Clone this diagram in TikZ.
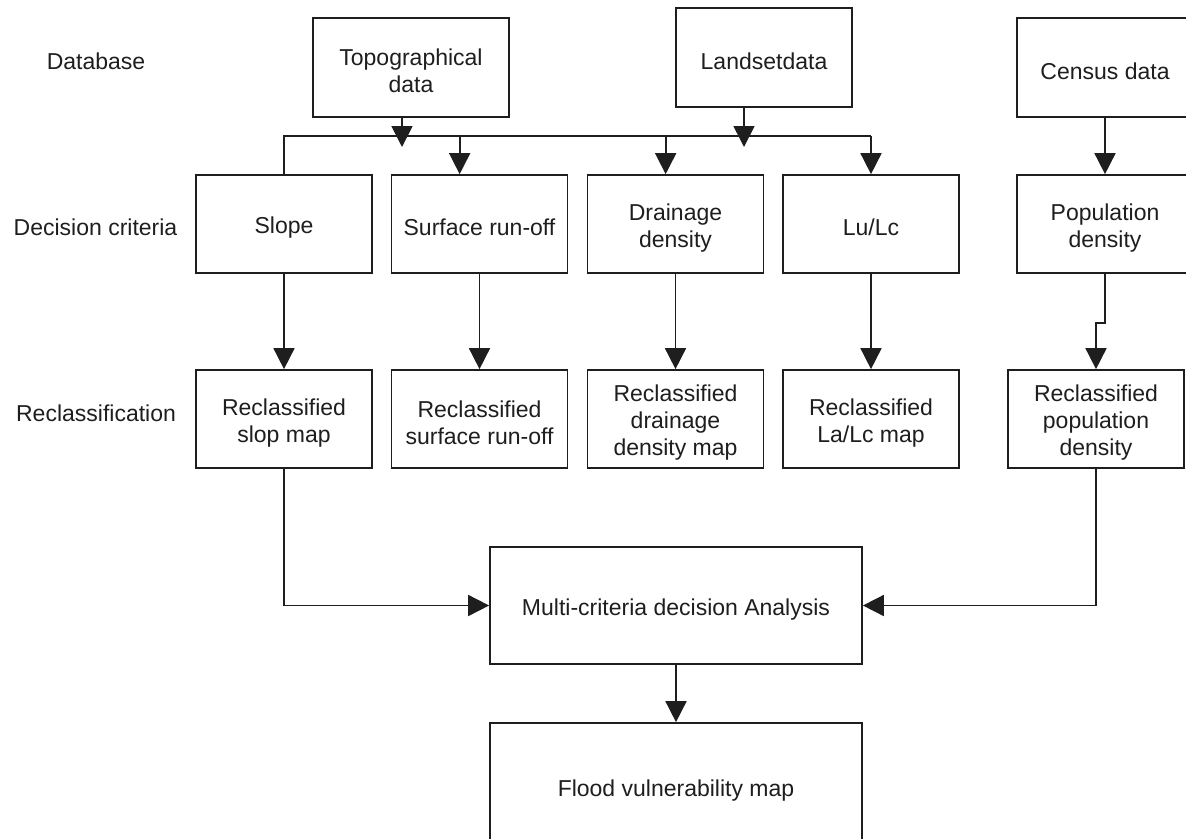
\documentclass[tikz,border=0pt]{standalone}
\usepackage{fontspec}
\setmainfont{Liberation Sans}
\usetikzlibrary{arrows.meta}
\definecolor{ink}{HTML}{1E1E1E}
\newcommand\tstr{\rule{0pt}{24pt}}
\begin{document}
\begin{tikzpicture}[x=1pt,y=-1pt,
  box/.style={draw=ink, line width=1.7pt, fill=white, align=center, inner sep=0pt,
    minimum width=176pt, minimum height=98pt, font=\fontsize{23}{27}\selectfont, text=ink},
  lbl/.style={font=\fontsize{23}{27}\selectfont, text=ink},
  ln/.style={draw=ink, line width=1.7pt},
  arr/.style={draw=ink, line width=1.7pt, -{Triangle[width=21pt,length=21pt]}}]
\useasboundingbox (0,0) rectangle (1186,838);

% row labels
\node[lbl] (ldb) at (96,61) {Database};
\node[lbl] (ldc) at (95.5,227) {Decision criteria};
\node[lbl] (lrc) at (96,413) {Reclassification};

% database row
\node[box, minimum width=196pt, minimum height=99pt] (topo) at (411,67.5) {\tstr Topographical\\data};
\node[box, minimum height=99pt] (landset) at (764,57.5) {\tstr Landsetdata};
\node[box, minimum height=99pt] (census) at (1105,67.5) {\tstr Census data};

% decision criteria row
\node[box] (slope) at (284,224) {\tstr Slope};
\node[box] (surface) at (479.5,224) {\tstr Surface run-off};
\node[box] (drainage) at (675.5,224) {\tstr Drainage\\density};
\node[box] (lulc) at (871,224) {\tstr Lu/Lc};
\node[box] (popden) at (1105,224) {\tstr Population\\density};

% reclassification row
\node[box] (rslope) at (284,419) {\tstr Reclassified\\slop map};
\node[box] (rsurf) at (479.5,419) {\tstr Reclassified\\surface run-off};
\node[box] (rdrain) at (675.5,419) {\tstr Reclassified\\drainage\\density map};
\node[box] (rlulc) at (871,419) {\tstr Reclassified\\La/Lc map};
\node[box] (rpop) at (1096,419) {\tstr Reclassified\\population\\density};

% analysis
\node[box, minimum width=372pt, minimum height=117pt] (mcda) at (676,605.5) {\tstr Multi-criteria decision Analysis};
\node[box, minimum width=372pt, minimum height=128pt] (flood) at (676,787) {\tstr Flood vulnerability map};

% bus between database and criteria
\coordinate (bus) at (0,136);
\coordinate (ttip) at (402,147);
\coordinate (ltip) at (744,147);
\draw[arr] (ttip |- topo.south) -- (ttip);
\draw[arr] (ltip |- landset.south) -- (ltip);
\draw[ln] (slope.north) -- (slope.north |- bus) -- (lulc.north |- bus);
\coordinate (sin) at ([xshift=69pt]surface.north west);
\coordinate (din) at ([xshift=79pt]drainage.north west);
\draw[arr] (sin |- bus) -- (sin);
\draw[arr] (din |- bus) -- (din);
\draw[arr] (lulc.north |- bus) -- (lulc.north);
\draw[arr] (census.south) -- (popden.north);

% criteria to reclassification
\draw[arr] (slope.south) -- (rslope.north);
\draw[arr] (surface.south) -- (rsurf.north);
\draw[arr] (drainage.south) -- (rdrain.north);
\draw[arr] (lulc.south) -- (rlulc.north);
\draw[arr] (popden.south) -- ++(0,49) -| (rpop.north);

% to analysis
\draw[arr] (rslope.south) |- (mcda.west);
\draw[arr] (rpop.south) |- (mcda.east);
\draw[arr] (mcda.south) -- (flood.north);
\end{tikzpicture}
\end{document}
